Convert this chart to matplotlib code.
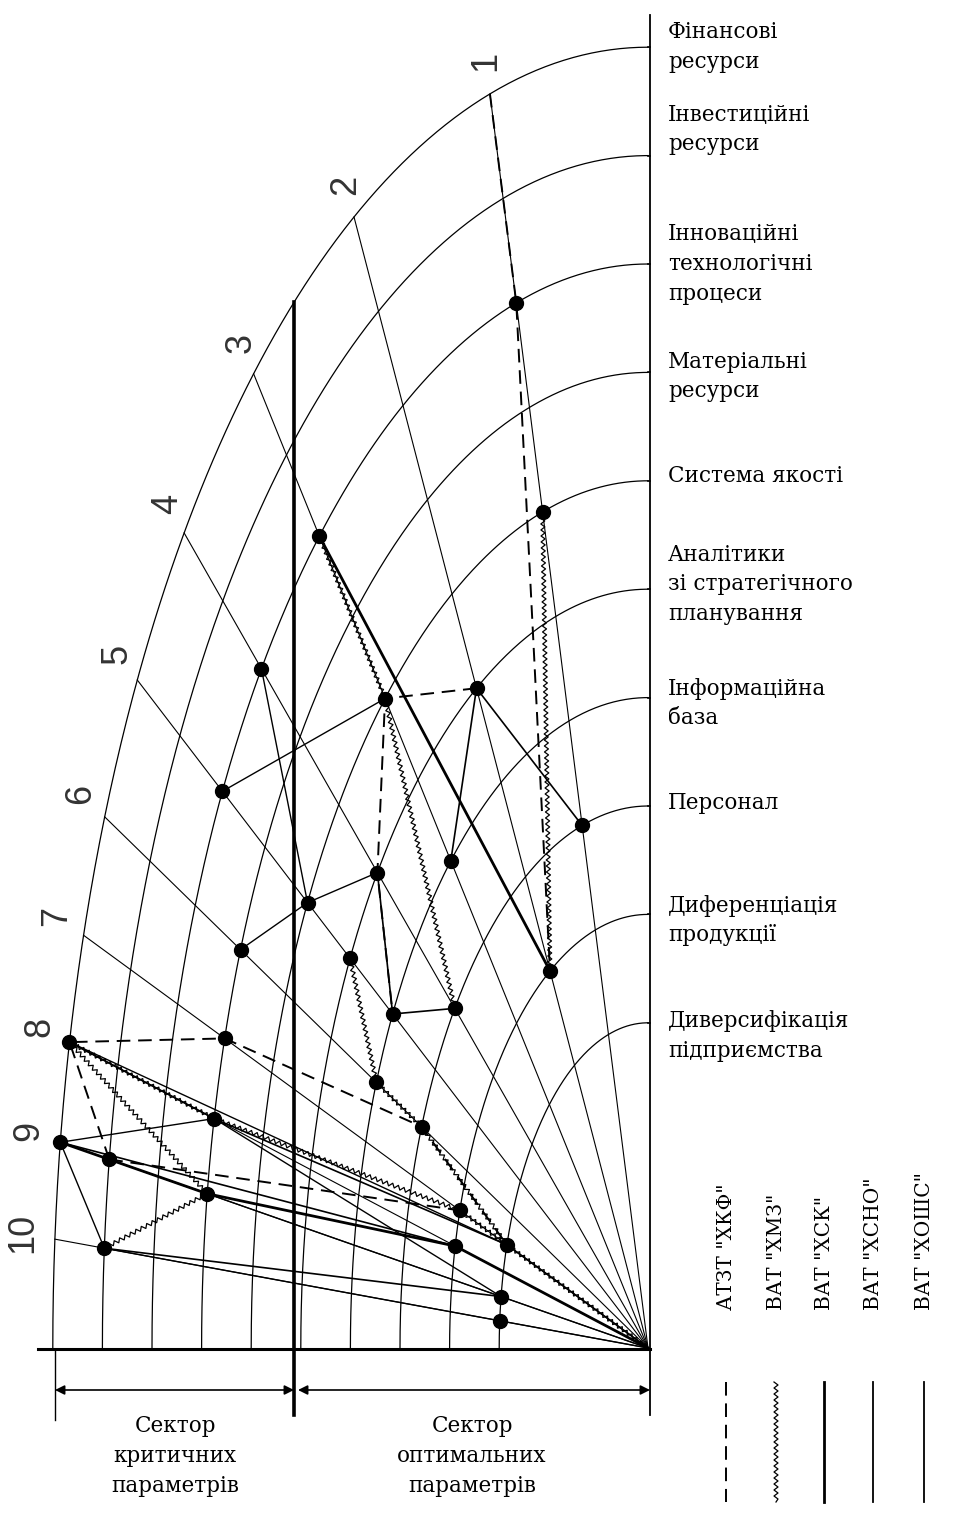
import numpy as np
import matplotlib
matplotlib.use("Agg")
import matplotlib.pyplot as plt

# parameters (arcs, outer to inner) and scale numbers (rays)
params = ["Фінансові\nресурси", "Інвестиційні\nресурси",
          "Інноваційні\nтехнологічні\nпроцеси", "Матеріальні\nресурси",
          "Система якості", "Аналітики\nзі стратегічного\nпланування",
          "Інформаційна\nбаза", "Персонал", "Диференціація\nпродукції",
          "Диверсифікація\nпідприємства"]
scale_labels = ["1", "2", "3", "4", "5", "6", "7", "8", "9", "10"]
companies = ['АТЗТ "ХКФ"', 'ВАТ "ХМЗ"', 'ВАТ "ХСК"', 'ВАТ "ХСНО"', 'ВАТ "ХОШС"']

# company profiles: chains of (ray number, parameter number); 0 = centre
hkf = [[(1, 1), (1, 3), (2, 9)],
       [(2, 6), (3, 5), (4, 6), (5, 7)],
       [(9, 2), (8, 1), (7, 4), (6, 8), (7, 10)],
       [(9, 2), (7, 9)]]
hmz = [[(1, 5), (2, 9)],
       [(3, 3), (3, 5), (4, 8)],
       [(5, 6), (6, 7), (6, 8), (7, 10)],
       [(8, 1), (9, 4), (10, 2)],
       [(8, 1), (8, 4), (7, 9), (0, 0)]]
hsk = [[(3, 3), (2, 9)],
       [(9, 1), (9, 2), (9, 4), (8, 9), (0, 0)]]
hsno = [[(2, 6), (3, 7)],
        [(2, 6), (1, 8)],
        [(8, 1), (8, 4), (7, 10), (0, 0)],
        [(4, 6), (5, 7), (4, 8)],
        [(9, 1), (8, 9)],
        [(10, 2), (9, 10)]]
hoshs = [[(9, 1), (10, 2), (10, 10), (0, 0)],
         [(6, 4), (5, 5), (4, 6)],
         [(9, 1), (8, 4), (9, 10), (0, 0)],
         [(4, 3), (5, 5)],
         [(5, 3), (3, 5)],
         [(9, 2), (9, 10)],
         [(8, 1), (7, 10)]]

# layout (pixel space)
CX, CY = 648, 1348
UX, UY = 49.6, 108.4
ray_phi = [74.6, 60.4, 48.5, 38.8, 30.9, 24.1, 18.5, 13.6, 9.1, 4.8]
label_dy = [0, -26, 0, 4, -5, -5, 6, -3, 6, 13]


def node_xy(ray, p):
    if ray == 0:
        return CX, CY
    r = 13 - p
    phi = np.radians(ray_phi[ray - 1])
    return CX - UX * r * np.cos(phi), CY - UY * r * np.sin(phi)


def zigzag(xs, ys, step=3.0, amp=2.0):
    out = []
    sign = 1
    for x0, y0, x1, y1 in zip(xs[:-1], ys[:-1], xs[1:], ys[1:]):
        L = np.hypot(x1 - x0, y1 - y0)
        n = max(int(L / step), 1)
        nx, ny = -(y1 - y0) / L, (x1 - x0) / L
        for i in range(n):
            t = i / n
            out.append((x0 + t * (x1 - x0) + sign * amp * nx,
                        y0 + t * (y1 - y0) + sign * amp * ny))
            sign = -sign
    out.append((xs[-1], ys[-1]))
    return np.array(out)


fig = plt.figure(figsize=(9.55, 15.15), dpi=100)
ax = fig.add_axes([0, 0, 1, 1])
ax.set_xlim(0, 955)
ax.set_ylim(1515, 0)
ax.axis("off")

serif = "DejaVu Serif"

# arcs
t = np.linspace(0, np.pi / 2, 300)
for i, name in enumerate(params):
    r = 12 - i
    ax.plot(CX - UX * r * np.cos(t), CY - UY * r * np.sin(t), color="k", lw=0.9)
    ax.plot([CX, 650], [CY - UY * r] * 2, color="k", lw=1.2)
    ax.text(668, CY - UY * r + label_dy[i], name, ha="left", va="center",
            fontsize=15.5, family=serif, linespacing=1.45)

# rays
for i, phi in enumerate(ray_phi):
    ex, ey = node_xy(i + 1, 1)
    ax.plot([CX, ex], [CY, ey], color="k", lw=0.8)
    d = np.hypot(ex - CX, ey - CY)
    lx = ex + 33 * (ex - CX) / d
    ly = ey + 33 * (ey - CY) / d
    ax.text(lx, ly, scale_labels[i], rotation=90, ha="center", va="center",
            fontsize=26, family="Liberation Sans", color="#333")

# frame lines
ax.plot([38, 650], [1349, 1349], color="k", lw=2.2)
ax.plot([650, 650], [15, 1415], color="k", lw=1.3)
top_y = CY - UY * 12 * np.sqrt(1 - ((CX - 294) / (UX * 12)) ** 2)
ax.plot([294, 294], [top_y, 1415], color="k", lw=2.6)
ax.plot([55, 55], [1349, 1420], color="k", lw=1.0)
for x0, x1 in [(55, 294), (298, 650)]:
    ax.annotate("", xy=(x0, 1390), xytext=(x1, 1390),
                arrowprops=dict(arrowstyle="<|-|>", color="k", lw=1.2,
                                mutation_scale=14, shrinkA=0, shrinkB=0))
ax.text(175, 1456, "Сектор\nкритичних\nпараметрів", ha="center", va="center",
        fontsize=15.5, family=serif, linespacing=1.45)
ax.text(472, 1456, "Сектор\nоптимальних\nпараметрів", ha="center", va="center",
        fontsize=15.5, family=serif, linespacing=1.45)

# company profiles
styles = [dict(ls=(0, (7, 4)), lw=1.4), "wavy",
          dict(ls="-", lw=2.0), dict(ls="-", lw=1.2), dict(ls="-", lw=1.0)]
dots = set()
for chains, st in zip([hkf, hmz, hsk, hsno, hoshs], styles):
    for chain in chains:
        xy = np.array([node_xy(r, p) for r, p in chain])
        if st == "wavy":
            z = zigzag(xy[:, 0], xy[:, 1])
            ax.plot(z[:, 0], z[:, 1], color="k", lw=0.9)
        else:
            ax.plot(xy[:, 0], xy[:, 1], color="k", **st)
        for r, p in chain:
            if r != 0 and not (r == 1 and p == 1):
                dots.add((r, p))
dxy = np.array([node_xy(r, p) for r, p in sorted(dots)])
ax.plot(dxy[:, 0], dxy[:, 1], "o", color="k", ms=10, zorder=5)

# legend
leg_x = [726, 776, 824, 873, 924]
for i, (name, st) in enumerate(zip(companies, styles)):
    x = leg_x[i]
    ax.text(x, 1310, name, rotation=90, ha="center", va="bottom",
            fontsize=14.5, family=serif)
    if st == "wavy":
        z = zigzag(np.array([x, x]), np.array([1382, 1502]))
        ax.plot(z[:, 0], z[:, 1], color="k", lw=0.9)
    else:
        ax.plot([x, x], [1382, 1502], color="k", ls=st["ls"],
                lw=max(st["lw"], 1.3))

fig.savefig("out.png", dpi=100)
